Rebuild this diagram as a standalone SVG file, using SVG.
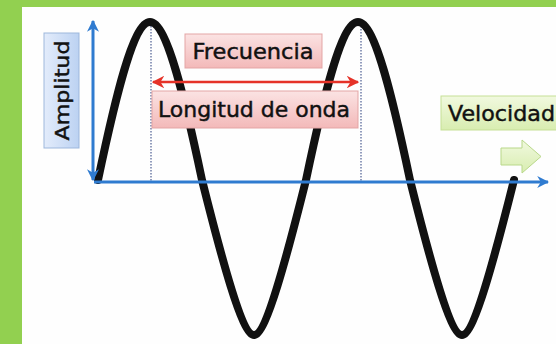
<svg xmlns="http://www.w3.org/2000/svg" width="556" height="344" viewBox="0 0 556 344">
<defs>
<linearGradient id="gBlue" x1="0" y1="0" x2="1" y2="0"><stop offset="0" stop-color="#e3ecfb"/><stop offset="1" stop-color="#bcd2f2"/></linearGradient>
<linearGradient id="gPink" x1="0" y1="0" x2="0" y2="1"><stop offset="0" stop-color="#fbe3e3"/><stop offset="1" stop-color="#f3b9b9"/></linearGradient>
<linearGradient id="gGreen" x1="0" y1="0" x2="0" y2="1"><stop offset="0" stop-color="#f1f9df"/><stop offset="1" stop-color="#d8edb0"/></linearGradient>
<marker id="ab" viewBox="0 0 10 10" refX="9" refY="5" markerWidth="4" markerHeight="4" orient="auto-start-reverse" markerUnits="strokeWidth"><path d="M0,0 L10,5 L0,10 L3,5 Z" fill="#2f7bd0"/></marker>
<marker id="ar" viewBox="0 0 10 10" refX="9" refY="5" markerWidth="5" markerHeight="5" orient="auto-start-reverse" markerUnits="strokeWidth"><path d="M0,0 L10,5 L0,10 L3,5 Z" fill="#e53228"/></marker>
</defs>
<style>
.lbl{font-family:"DejaVu Sans","Liberation Sans",sans-serif;fill:#111;stroke:#111;stroke-width:0.45;}
.axis{stroke:#2f7bd0;stroke-width:3;fill:none;}
.dot{stroke:#5a6a9a;stroke-width:1.3;stroke-dasharray:1.5 1.5;fill:none;}
</style>
<rect x="0" y="0" width="556" height="344" fill="#92d050"/>
<rect x="22" y="7" width="534" height="337" fill="#fefefe"/>

<g id="guides">
<line class="dot" x1="151" y1="20" x2="151" y2="182"/>
<line class="dot" x1="361" y1="20" x2="361" y2="182"/>
</g>

<g id="wave">
<path d="M98,180 C115,99 133,22 150,22 C167,22 185,99 202,180 C221,256 242,335 254,335 C266,335 287,256 306,180 C323,99 341,22 358,22 C375,22 393,99 410,180 C429,256 450,335 462,335 C474,335 495,256 514,180" fill="none" stroke="#111" stroke-width="8" stroke-linecap="round" stroke-linejoin="round"/>
</g>

<g id="connectors">
<line class="axis" x1="93" y1="21" x2="93" y2="180" marker-start="url(#ab)" marker-end="url(#ab)"/>
<line class="axis" x1="94" y1="182" x2="548" y2="182" stroke-width="2.5" marker-end="url(#ab)"/>
<line x1="153" y1="82" x2="358" y2="82" stroke="#e53228" stroke-width="2.5" marker-start="url(#ar)" marker-end="url(#ar)"/>
</g>

<g id="amplitud">
<rect x="44" y="33" width="35" height="115" fill="url(#gBlue)" stroke="#9db7dc" stroke-width="1"/>
<text class="lbl" x="0" y="0" font-size="20" text-anchor="middle" transform="translate(69,90.5) rotate(-90)" textLength="100" lengthAdjust="spacingAndGlyphs">Amplitud</text>
</g>

<g id="frecuencia">
<rect x="185" y="34" width="137" height="34" fill="url(#gPink)" stroke="#e3a5a5" stroke-width="1"/>
<text class="lbl" x="253" y="59" font-size="21" text-anchor="middle" textLength="121" lengthAdjust="spacingAndGlyphs">Frecuencia</text>
</g>

<g id="longitud">
<rect x="152" y="91" width="206" height="37" fill="url(#gPink)" stroke="#e3a5a5" stroke-width="1"/>
<text class="lbl" x="254" y="117" font-size="22" text-anchor="middle" textLength="192" lengthAdjust="spacingAndGlyphs">Longitud de onda</text>
</g>

<g id="velocidad">
<rect x="441" y="96" width="120" height="34" fill="url(#gGreen)" stroke="#c6df96" stroke-width="1"/>
<text class="lbl" x="448" y="121" font-size="21" textLength="107" lengthAdjust="spacingAndGlyphs">Velocidad</text>
<path d="M501,148 L522,148 L522,140 L541,156.5 L522,173 L522,165 L501,165 Z" fill="url(#gGreen)" stroke="#b9d88a" stroke-width="1"/>
</g>
</svg>
